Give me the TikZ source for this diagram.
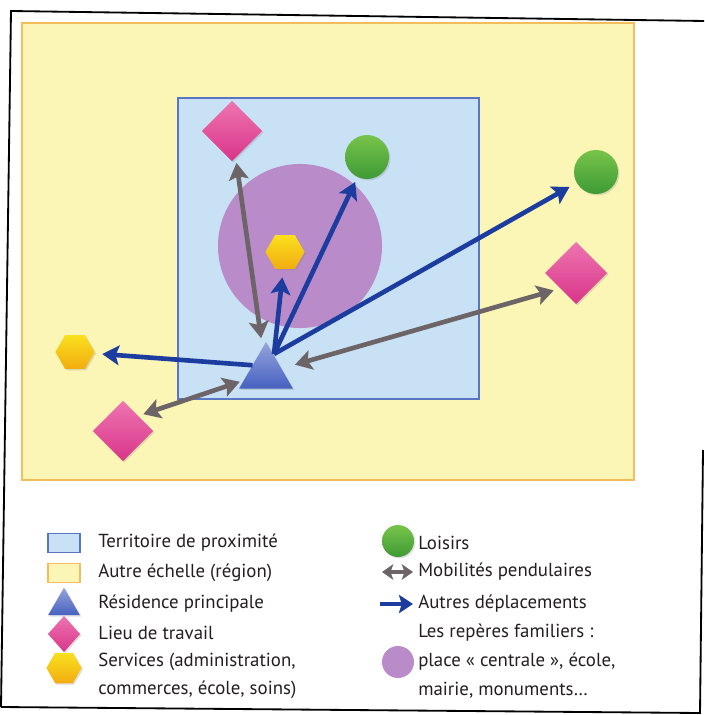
\documentclass[tikz,border=0pt]{standalone}
\usepackage{fontspec}
\setmainfont{PT Sans}
\usetikzlibrary{shapes.geometric,arrows.meta,shadows}

\definecolor{region}{HTML}{FBF5B6}
\definecolor{regionbord}{HTML}{F3BD5C}
\definecolor{proxi}{HTML}{C9E1F4}
\definecolor{proxibord}{HTML}{5A76C2}
\definecolor{reperes}{HTML}{B98BC8}
\definecolor{bleufonce}{HTML}{1C3D9F}
\definecolor{gris}{HTML}{6C6466}
\definecolor{texte}{HTML}{231F20}
\definecolor{roseh}{HTML}{EE74B0}
\definecolor{roseb}{HTML}{D93589}
\definecolor{verth}{HTML}{78C44A}
\definecolor{vertb}{HTML}{3E9A35}
\definecolor{jauneh}{HTML}{FAE01E}
\definecolor{jauneb}{HTML}{F2AC10}
\definecolor{bleuh}{HTML}{96A4DC}
\definecolor{bleub}{HTML}{4661C0}

\tikzset{
	sym/.style={inner sep=0pt, outer sep=0pt, draw=none, drop shadow={opacity=0.25, shadow xshift=1pt, shadow yshift=-1pt}},
	travail/.style={sym, diamond, top color=roseh, bottom color=roseb, minimum size=#1},
	loisir/.style={sym, circle, top color=verth, bottom color=vertb, minimum size=#1},
	service/.style={sym, regular polygon, regular polygon sides=6, top color=jauneh, bottom color=jauneb, minimum size=#1},
	residence/.style={sym, regular polygon, regular polygon sides=3, top color=bleuh, bottom color=bleub, minimum size=#1},
	pend/.style={draw=gris, line width=3.3pt, {Stealth[length=12pt, width=14pt, inset=2.5pt]}-{Stealth[length=12pt, width=14pt, inset=2.5pt]}},
	autre/.style={draw=bleufonce, line width=3.3pt, -{Stealth[length=12pt, width=14pt, inset=2.5pt]}},
	pendleg/.style={draw=gris, line width=3pt, {Stealth[length=8pt, width=11pt, inset=2pt]}-{Stealth[length=8pt, width=11pt, inset=2pt]}},
	autreleg/.style={draw=bleufonce, line width=3.4pt, -{Stealth[length=10pt, width=13pt, inset=2pt]}},
	leg/.style={anchor=west, inner sep=0pt, text=texte},
}

\begin{document}
\begin{tikzpicture}[x=0.025cm, y=-0.025cm, font=\fontsize{13.4}{16}\selectfont]
	\useasboundingbox (0,0) rectangle (704,715);
	\fill[white] (0,0) rectangle (704,715);

	% carte
	\draw[fill=region, draw=regionbord, line width=1.4pt] (22,23) rectangle (634,480);
	\draw[fill=proxi, draw=proxibord, line width=1pt] (178,98) rectangle (479,399);
	\fill[reperes] (300,246) circle (2.05cm);

	\node[residence=1.55cm] (res) at (266,373) {};
	\node[travail=1.5cm] (dtop) at (232,131) {};
	\node[travail=1.55cm] (dright) at (576,273) {};
	\node[travail=1.5cm] (dleft) at (123,431) {};
	\node[loisir=1.1cm] (gin) at (367,157) {};
	\node[loisir=1.1cm] (gout) at (596,172) {};
	\node[service=0.98cm] (hin) at (285,252) {};
	\node[service=0.98cm] (hout) at (75,352) {};
	\coordinate (hub) at ([shift={(8,-19)}]res.center);

	\draw[pend, shorten <=4pt, shorten >=7pt] (dtop) -- (res);
	\draw[pend, shorten <=10pt, shorten >=5pt] (res) -- (dright.south west);
	\draw[pend, shorten <=4pt, shorten >=3pt] (dleft.north east) -- (res);
	\draw[autre, shorten >=6pt] (hub) -- (hin);
	\draw[autre, shorten >=4pt] (hub) -- (gin);
	\draw[autre, shorten >=6pt] (hub) -- (gout);
	\draw[autre, shorten >=6pt] (res.150) -- (hout);

	% legende
	\node[draw=proxibord, fill=proxi, line width=1pt, minimum width=0.8cm, minimum height=0.47cm] (lgterr) at (64,543) {};
	\node[draw=regionbord, fill=region, line width=1pt, minimum width=0.8cm, minimum height=0.47cm] (lgregion) at (64,573) {};
	\node[residence=0.92cm] (lgres) at (64,606) {};
	\node[travail=0.8cm, minimum height=0.9cm] (lgtravail) at (64,634) {};
	\node[service=0.88cm] (lgservice) at (64,668) {};
	\node[leg] at (98,543) {Territoire de proximité};
	\node[leg] at (98,573) {Autre échelle (région)};
	\node[leg] at (98,604) {Résidence principale};
	\node[leg] at (98,633) {Lieu de travail};
	\node[leg] at (98,662) {Services (administration,};
	\node[leg] at (98,690) {commerces, école, soins)};

	\node[loisir=0.8cm] (lgloisir) at (398,541) {};
	\coordinate (lgpa) at (382,572);
	\coordinate (lgpb) at (413,572);
	\draw[pendleg] (lgpa) -- (lgpb);
	\coordinate (lgaa) at (380,604);
	\coordinate (lgab) at (413,604);
	\draw[autreleg] (lgaa) -- (lgab);
	\node[circle, fill=reperes, inner sep=0pt, minimum size=0.8cm] (lgreperes) at (398,662) {};
	\node[leg] at (418,543) {Loisirs};
	\node[leg] at (418,572) {Mobilités pendulaires};
	\node[leg] at (418,604) {Autres déplacements};
	\node[leg] at (418,633) {Les repères familiers :};
	\node[leg] at (418,662) {place « centrale », école,};
	\node[leg] at (418,690) {mairie, monuments…};

	% cadre
	\draw[line width=1.3pt] (1,707) -- (11,11) -- (704,21);
	\draw[line width=1.3pt] (703,450) -- (700,713) -- (1,707);
\end{tikzpicture}
\end{document}
